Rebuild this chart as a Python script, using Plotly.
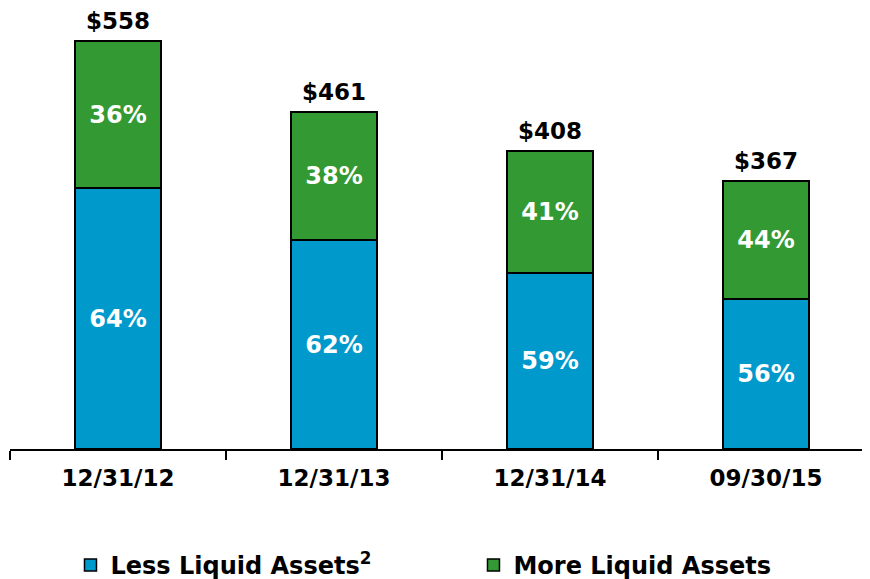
import plotly.graph_objects as go

dates = ["12/31/12", "12/31/13", "12/31/14", "09/30/15"]
totals = [558, 461, 408, 367]
less_liquid_pct = [64, 62, 59, 56]
more_liquid_pct = [36, 38, 41, 44]

less_vals = [t * p / 100 for t, p in zip(totals, less_liquid_pct)]
more_vals = [t - v for t, v in zip(totals, less_vals)]

font_family = "DejaVu Sans, Arial, sans-serif"

fig = go.Figure()
fig.add_trace(go.Bar(
    x=dates, y=less_vals,
    name="Less Liquid Assets<sup>2</sup>",
    marker=dict(color="#0099cc", line=dict(color="black", width=1.5)),
    text=[f"{p}%" for p in less_liquid_pct],
    textposition="inside", insidetextanchor="middle",
    textfont=dict(color="white", size=24, family=font_family, weight="bold"),
    width=0.4,
    hoverinfo="skip",
))
fig.add_trace(go.Bar(
    x=dates, y=more_vals,
    name="More Liquid Assets",
    marker=dict(color="#339933", line=dict(color="black", width=1.5)),
    text=[f"{p}%" for p in more_liquid_pct],
    textposition="inside", insidetextanchor="middle",
    textfont=dict(color="white", size=24, family=font_family, weight="bold"),
    width=0.4,
    hoverinfo="skip",
))

for d, t in zip(dates, totals):
    fig.add_annotation(
        x=d, y=t, text=f"${t}", showarrow=False,
        yanchor="bottom", yshift=5,
        font=dict(color="black", size=23, family=font_family, weight="bold"),
    )

fig.update_layout(
    width=870, height=579,
    barmode="stack",
    plot_bgcolor="white", paper_bgcolor="white",
    margin=dict(l=2, r=4, t=12, b=138, autoexpand=False),
    font=dict(family=font_family, color="black"),
    uniformtext=dict(mode="show", minsize=10),
    showlegend=True,
    legend=dict(
        orientation="h", x=0.07, xanchor="left", y=-0.219, yanchor="top",
        font=dict(size=24, family=font_family, weight="bold"),
        entrywidth=358, traceorder="normal",
    ),
)
fig.update_xaxes(
    showline=True, linecolor="black", linewidth=1.5, automargin=False,
    ticks="outside", tickson="boundaries", ticklen=9, tickcolor="black", tickwidth=1.5,
    tickfont=dict(size=23, family=font_family, weight="bold"),
    ticklabelstandoff=8,
    range=[-0.5, 3.5],
)
fig.update_yaxes(visible=False, range=[0, 587], automargin=False)

fig.write_html("out.html")
